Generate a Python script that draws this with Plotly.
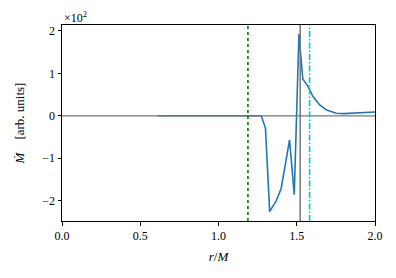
import plotly.graph_objects as go

# radius r/M and accretion rate (in units of 10^2, arb. units)
r_vals = [0.61, 0.80, 1.00, 1.20, 1.273, 1.30, 1.327, 1.369, 1.40, 1.428, 1.454, 1.484,
          1.497, 1.514, 1.539, 1.571, 1.603, 1.645, 1.688, 1.752, 1.80, 1.90, 2.0]
mdot_vals = [0.0, 0.0, 0.0, 0.0, 0.0, -0.29, -2.26, -2.0, -1.72, -1.13, -0.57, -1.86,
             0.0, 1.93, 0.86, 0.70, 0.46, 0.26, 0.14, 0.06, 0.05, 0.07, 0.09]

r_green = 1.188   # dotted green marker
r_gray = 1.522    # solid gray marker
r_cyan = 1.582    # dash-dot cyan marker

x_ticks = [0.0, 0.5, 1.0, 1.5, 2.0]
x_tick_text = ["0.0", "0.5", "1.0", "1.5", "2.0"]
y_ticks = [-2, -1, 0, 1, 2]
y_tick_text = ["−2", "−1", "0", "1", "2"]

font = "Liberation Serif, Times New Roman, DejaVu Serif, serif"

fig = go.Figure()
fig.add_trace(go.Scatter(x=r_vals, y=mdot_vals, mode="lines",
                         line=dict(color="#1f77b4", width=1.6), showlegend=False))

fig.add_shape(type="line", xref="paper", yref="y", x0=0, x1=1, y0=0, y1=0,
              line=dict(color="#777777", width=1.2))
fig.add_shape(type="line", xref="x", yref="paper", x0=r_gray, x1=r_gray, y0=0, y1=1,
              line=dict(color="#777777", width=1.5))
fig.add_shape(type="line", xref="x", yref="paper", x0=r_green, x1=r_green, y0=0, y1=1,
              line=dict(color="#008000", width=1.6, dash="dot"))
fig.add_shape(type="line", xref="x", yref="paper", x0=r_cyan, x1=r_cyan, y0=0, y1=1,
              line=dict(color="#00c8d0", width=1.6, dash="6px,2px,1.5px,2px"))

fig.add_annotation(xref="paper", yref="paper", x=0, y=1, xanchor="left", yanchor="bottom",
                   text="×10<sup>2</sup>", showarrow=False,
                   font=dict(family=font, size=12, color="black"), yshift=-2)

fig.update_layout(
    width=388, height=270,
    margin=dict(l=54, r=21, t=17, b=57),
    paper_bgcolor="white", plot_bgcolor="white",
    font=dict(family=font, size=12, color="black"),
    xaxis=dict(range=[0, 2], tickvals=x_ticks, ticktext=x_tick_text,
               showgrid=False, zeroline=False, showline=True, linecolor="black",
               linewidth=1, mirror=True, ticks="outside", ticklen=3.5, tickcolor="black",
               tickfont=dict(family=font, size=12), ticklabelstandoff=0,
               title=dict(text="<i>r</i>/<i>M</i>", font=dict(family=font, size=13),
                          standoff=9)),
    yaxis=dict(range=[-2.48, 2.14], tickvals=y_ticks, ticktext=y_tick_text,
               showgrid=False, zeroline=False, showline=True, linecolor="black",
               linewidth=1, mirror=True, ticks="outside", ticklen=3.5, tickcolor="black",
               tickfont=dict(family=font, size=12),
               title=dict(text="<i>M\u0307</i>    [arb. units]", font=dict(family=font, size=13),
                          standoff=14)),
)

fig.write_html("out.html")
